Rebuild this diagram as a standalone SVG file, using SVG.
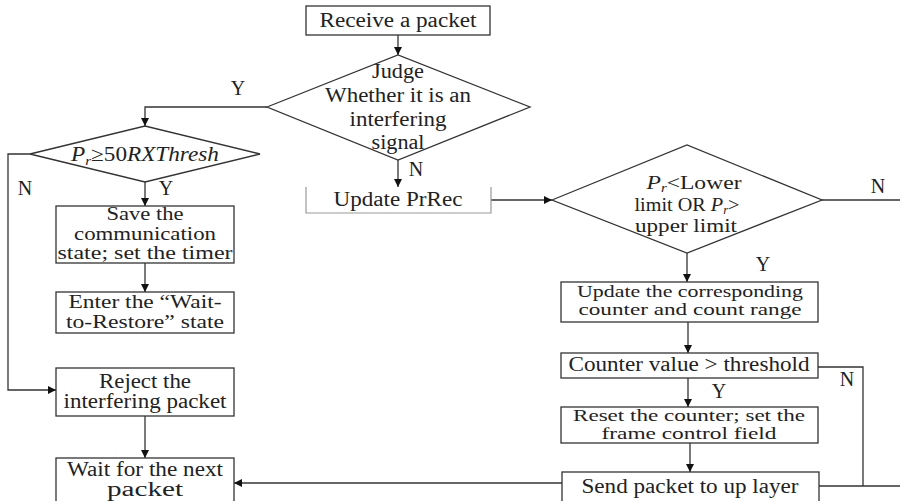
<svg xmlns="http://www.w3.org/2000/svg" width="900" height="501" viewBox="0 0 900 501" font-family="Liberation Serif, Times New Roman, serif">
<style>
.box{fill:#fff;stroke:#333;stroke-width:1.3}
.ln{fill:none;stroke:#333;stroke-width:1.3}
text{font-family:'Liberation Serif','Times New Roman',serif;font-size:20px;fill:#222;text-anchor:middle}
.s{font-size:17px}
.m{font-size:19px}
.i{font-style:italic}
</style>
<defs>
<marker id="ah" viewBox="0 0 10 10" refX="10" refY="5" markerWidth="8" markerHeight="8" markerUnits="userSpaceOnUse" orient="auto">
<path d="M0,0 L10,5 L0,10 z" fill="#111"/>
</marker>
</defs>
<rect width="900" height="501" fill="#fff"/>
<g id="connectors">
<path class="ln" d="M398,35 V55" marker-end="url(#ah)"/>
<path class="ln" d="M267,107 H145 V126" marker-end="url(#ah)"/>
<path class="ln" d="M398,160 V187" marker-end="url(#ah)"/>
<path class="ln" d="M491,200 H552" marker-end="url(#ah)"/>
<path class="ln" d="M822,200 H900"/>
<path class="ln" d="M687,253 V282" marker-end="url(#ah)"/>
<path class="ln" d="M30,154 H8 V390 H56" marker-end="url(#ah)"/>
<path class="ln" d="M145,182 V206" marker-end="url(#ah)"/>
<path class="ln" d="M145,263 V292" marker-end="url(#ah)"/>
<path class="ln" d="M145,416 V458" marker-end="url(#ah)"/>
<path class="ln" d="M688,322 V353" marker-end="url(#ah)"/>
<path class="ln" d="M688,378 V407" marker-end="url(#ah)"/>
<path class="ln" d="M690,443 V472" marker-end="url(#ah)"/>
<path class="ln" d="M818,367 H863 V486"/>
<path class="ln" d="M819,486 H900"/>
<path class="ln" d="M562,483 H234" marker-end="url(#ah)"/>
<text x="238" y="95">Y</text>
<text x="416" y="176">N</text>
<text x="25" y="195">N</text>
<text x="166" y="195">Y</text>
<text x="878" y="193">N</text>
<text x="763" y="271">Y</text>
<text x="847" y="386">N</text>
<text x="719" y="398">Y</text>
</g>
<g id="receive">
<rect class="box" x="306" y="6" width="184" height="29"/>
<text x="398" y="27" textLength="157" lengthAdjust="spacingAndGlyphs">Receive a packet</text>
</g>
<g id="judge">
<polygon class="box" points="267,107 398,55 530,107 398,160"/>
<text x="398" y="78" textLength="52" lengthAdjust="spacingAndGlyphs">Judge</text>
<text x="398" y="102" textLength="146" lengthAdjust="spacingAndGlyphs">Whether it is an</text>
<text x="398" y="126" textLength="97" lengthAdjust="spacingAndGlyphs">interfering</text>
<text x="398" y="149" textLength="53" lengthAdjust="spacingAndGlyphs">signal</text>
</g>
<g id="updateprrec">
<path d="M306,187 V213 H491 V187" fill="none" stroke="#999" stroke-width="1.2"/>
<text x="398" y="206" textLength="129" lengthAdjust="spacingAndGlyphs">Update PrRec</text>
</g>
<g id="range">
<polygon class="box" points="552,200 687,145 822,200 687,253"/>
<text class="m" x="694" y="189" textLength="95" lengthAdjust="spacingAndGlyphs"><tspan class="i">P</tspan><tspan class="i" font-size="12" dy="3">r</tspan><tspan dy="-3">&lt;Lower</tspan></text>
<text class="m" x="687" y="211" textLength="105" lengthAdjust="spacingAndGlyphs">limit  OR <tspan class="i">P</tspan><tspan class="i" font-size="12" dy="3">r</tspan><tspan dy="-3">&gt;</tspan></text>
<text class="m" x="686" y="232" textLength="102" lengthAdjust="spacingAndGlyphs">upper limit</text>
</g>
<g id="updatecounter">
<rect class="box" x="561" y="282" width="257" height="40"/>
<text class="s" x="690" y="297" textLength="226" lengthAdjust="spacingAndGlyphs">Update the corresponding</text>
<text class="s" x="690" y="315" textLength="223" lengthAdjust="spacingAndGlyphs">counter and count range</text>
</g>
<g id="counter">
<rect class="box" x="561" y="353" width="257" height="25"/>
<text x="689" y="371" textLength="241" lengthAdjust="spacingAndGlyphs">Counter value &gt; threshold</text>
</g>
<g id="reset">
<rect class="box" x="561" y="407" width="257" height="36"/>
<text class="s" x="689" y="421" textLength="232" lengthAdjust="spacingAndGlyphs">Reset the counter; set the</text>
<text class="s" x="689" y="439" textLength="175" lengthAdjust="spacingAndGlyphs">frame control field</text>
</g>
<g id="send">
<rect class="box" x="562" y="472" width="257" height="40"/>
<text x="690" y="493" textLength="217" lengthAdjust="spacingAndGlyphs">Send packet to up layer</text>
</g>
<g id="threshold">
<polygon class="box" points="30,154 145,126 260,154 145,182"/>
<text x="145" y="161" textLength="148" lengthAdjust="spacingAndGlyphs"><tspan class="i">P</tspan><tspan class="i" font-size="13" dy="4">r</tspan><tspan dy="-4">≥50</tspan><tspan class="i">RXThresh</tspan></text>
</g>
<g id="save">
<rect class="box" x="56" y="206" width="178" height="57"/>
<text class="m" x="145" y="220" textLength="77" lengthAdjust="spacingAndGlyphs">Save the</text>
<text class="m" x="145" y="240" textLength="142" lengthAdjust="spacingAndGlyphs">communication</text>
<text class="m" x="145" y="259" textLength="175" lengthAdjust="spacingAndGlyphs">state; set the timer</text>
</g>
<g id="enter">
<rect class="box" x="56" y="292" width="178" height="41"/>
<text class="m" x="145" y="308" textLength="153" lengthAdjust="spacingAndGlyphs">Enter the “Wait-</text>
<text class="m" x="145" y="328" textLength="158" lengthAdjust="spacingAndGlyphs">to-Restore” state</text>
</g>
<g id="reject">
<rect class="box" x="56" y="368" width="178" height="48"/>
<text x="145" y="388" textLength="92" lengthAdjust="spacingAndGlyphs">Reject the</text>
<text x="145" y="408" textLength="163" lengthAdjust="spacingAndGlyphs">interfering packet</text>
</g>
<g id="wait">
<rect class="box" x="56" y="458" width="178" height="50"/>
<text x="145" y="476" textLength="156" lengthAdjust="spacingAndGlyphs">Wait for the next</text>
<text x="145" y="496" textLength="76" lengthAdjust="spacingAndGlyphs">packet</text>
</g>
</svg>
